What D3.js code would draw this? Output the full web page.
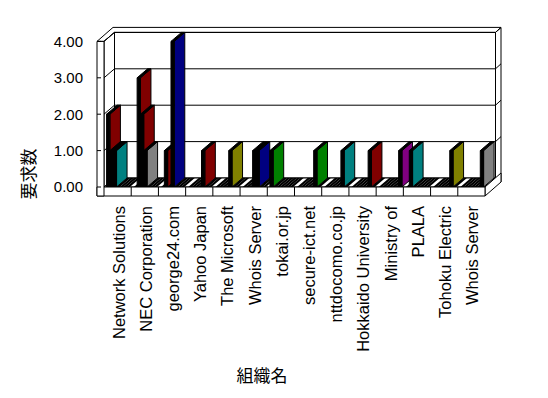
<!DOCTYPE html>
<html>
<head>
<meta charset="utf-8">
<script src="https://cdn.jsdelivr.net/npm/d3@7"></script>
<style>
body { margin: 0; background: #fff; }
text { font-family: "Liberation Sans", Arial, sans-serif; fill: #000; }
.cjk { font-family: "Noto Sans CJK JP", sans-serif; }
</style>
</head>
<body>
<svg width="548" height="398"></svg>
<script>
var categories = ["Network Solutions", "NEC Corporation", "george24.com", "Yahoo Japan",
    "The Microsoft", "Whois Server", "tokai.or.jp", "secure-ict.net", "nttdocomo.co.jp",
    "Hokkaido University", "Ministry of", "PLALA", "Tohoku Electric", "Whois Server"];
var yTicks = [0, 1, 2, 3, 4];
var seriesCount = 7;

// one entry per drawn bar: category index, series slot, value, colour
var barCategory = [0, 0, 0, 1, 1, 1, 2, 2, 3, 4, 5, 5, 6, 7, 8, 9, 10, 11, 12, 13];
var barSeries   = [0, 1, 2, 1, 2, 3, 1, 3, 4, 4, 3, 4, 0, 5, 5, 5, 6, 1, 5, 6];
var barValue    = [2, 1, 1, 3, 2, 1, 1, 4, 1, 1, 1, 1, 1, 1, 1, 1, 1, 1, 1, 1];
var barColor    = ["#800000", "#000000", "#008080", "#800000", "#800000", "#808080",
    "#800000", "#000080", "#800000", "#808000", "#008080", "#000080", "#008000",
    "#008000", "#008080", "#800000", "#800080", "#008080", "#808000", "#808080"];

var svg = d3.select("svg");
var x = d3.scaleBand().domain(d3.range(categories.length)).range([104, 485]);
var slot = d3.scaleBand().domain(d3.range(seriesCount)).range([0.6, x.bandwidth() + 0.6]).paddingOuter(0.6);
var y = d3.scaleLinear().domain([0, 4]).range([187, 41.4]);

var dx = 10.5, dy = -9;      // inner depth
var ox = 16, oy = -14;       // outer wall depth
var floorH = 9, wallT = 7;
var x0 = x.range()[0], x1 = x.range()[1];

function poly(pts, fill, noStroke) {
    return svg.append("polygon")
        .attr("points", pts.map(function(p) { return p.join(","); }).join(" "))
        .attr("fill", fill).attr("stroke", noStroke ? "none" : "#000").attr("stroke-width", 1)
        .attr("stroke-linejoin", "miter");
}
function line(a, b) {
    svg.append("line").attr("x1", a[0]).attr("y1", a[1]).attr("x2", b[0]).attr("y2", b[1])
        .attr("stroke", "#000").attr("stroke-width", 1);
}

var top4 = y(4), base = y(0);

// back wall slab: right end face, then inner face
poly([[x1 + dx, base + dy], [x1 + dx, top4 + dy], [x1 + ox, top4 + oy], [x1 + ox, base + floorH + oy]], "#fff");
poly([[x0 + dx, base + dy], [x0 + dx, top4 + dy], [x1 + dx, top4 + dy], [x1 + dx, base + dy]], "#fff");
// top of walls
poly([[x0 - wallT, top4], [x0, top4], [x0 + dx, top4 + dy], [x1 + dx, top4 + dy],
      [x1 + ox, top4 + oy], [x0 - wallT + ox, top4 + oy]], "#fff");
// left wall inner face
poly([[x0, base], [x0, top4], [x0 + dx, top4 + dy], [x0 + dx, base + dy]], "#fff");

yTicks.slice(1).forEach(function(v) {
    line([x0, y(v)], [x0 + dx, y(v) + dy]);
    line([x0 + dx, y(v) + dy], [x1 + dx, y(v) + dy]);
    line([x1 + dx, y(v) + dy], [x1 + ox, y(v) + oy]);
});

// floor top
poly([[x0, base], [x1, base], [x1 + dx, base + dy], [x0 + dx, base + dy]], "#fff");
// floor slab right end
poly([[x1, base], [x1, base + floorH], [x1 + ox, base + floorH + oy], [x1 + ox, base + oy]], "#fff");

// bars, zero slots included, drawn left to right
var bars = [];
categories.forEach(function(c, ci) {
    d3.range(seriesCount).forEach(function(si) {
        bars.push({ c: ci, s: si, v: 0, color: "#000" });
    });
});
barValue.forEach(function(v, i) {
    var b = bars[barCategory[i] * seriesCount + barSeries[i]];
    b.v = v;
    b.color = barColor[i];
});

var w = slot.bandwidth();
bars.forEach(function(b) {
    var bx = x(b.c) + slot(b.s);
    var by = y(b.v);
    if (b.v > 0) {
        poly([[bx + w, base], [bx + w, by], [bx + w + dx, by + dy], [bx + w + dx, base + dy]], b.color);
    }
    poly([[bx, by], [bx + w, by], [bx + w + dx, by + dy], [bx + dx, by + dy]], "#000", b.v === 0);
    if (b.v > 0) {
        poly([[bx, base], [bx, by], [bx + w, by], [bx + w, base]], "#000");
    }
});

// floor front strip and left wall front
poly([[x0 - wallT, base], [x1, base], [x1, base + floorH], [x0 - wallT, base + floorH]], "#fff");
poly([[x0 - wallT, top4], [x0, top4], [x0, base + floorH], [x0 - wallT, base + floorH]], "#fff");
categories.forEach(function(c, i) {
    if (i > 0) line([x(i), base], [x(i), base + floorH]);
});
yTicks.forEach(function(v) {
    line([x0 - wallT, y(v)], [x0 - wallT + 4, y(v)]);
});

// y tick labels
svg.selectAll(".ytick").data(yTicks).enter().append("text")
    .attr("x", 83).attr("y", function(d) { return y(d); })
    .attr("dy", "0.36em")
    .attr("text-anchor", "end")
    .style("font-size", "15px")
    .text(function(d) { return d3.format(".2f")(d); });

// category labels
svg.selectAll(".xlabel").data(categories).enter().append("text")
    .attr("transform", function(d, i) {
        return "translate(" + (x(i) + x.bandwidth() / 2 + 1) + ",206) rotate(-90)";
    })
    .attr("dy", "0.36em")
    .attr("text-anchor", "end")
    .style("font-size", "16.5px")
    .text(function(d) { return d; });

svg.append("text").attr("class", "cjk")
    .attr("transform", "translate(29,174) rotate(-90)")
    .attr("dy", "0.36em")
    .attr("text-anchor", "middle")
    .style("font-size", "17px")
    .text("要求数");

svg.append("text").attr("class", "cjk")
    .attr("x", 262).attr("y", 376)
    .attr("dy", "0.36em")
    .attr("text-anchor", "middle")
    .style("font-size", "17px")
    .text("組織名");
</script>
</body>
</html>
